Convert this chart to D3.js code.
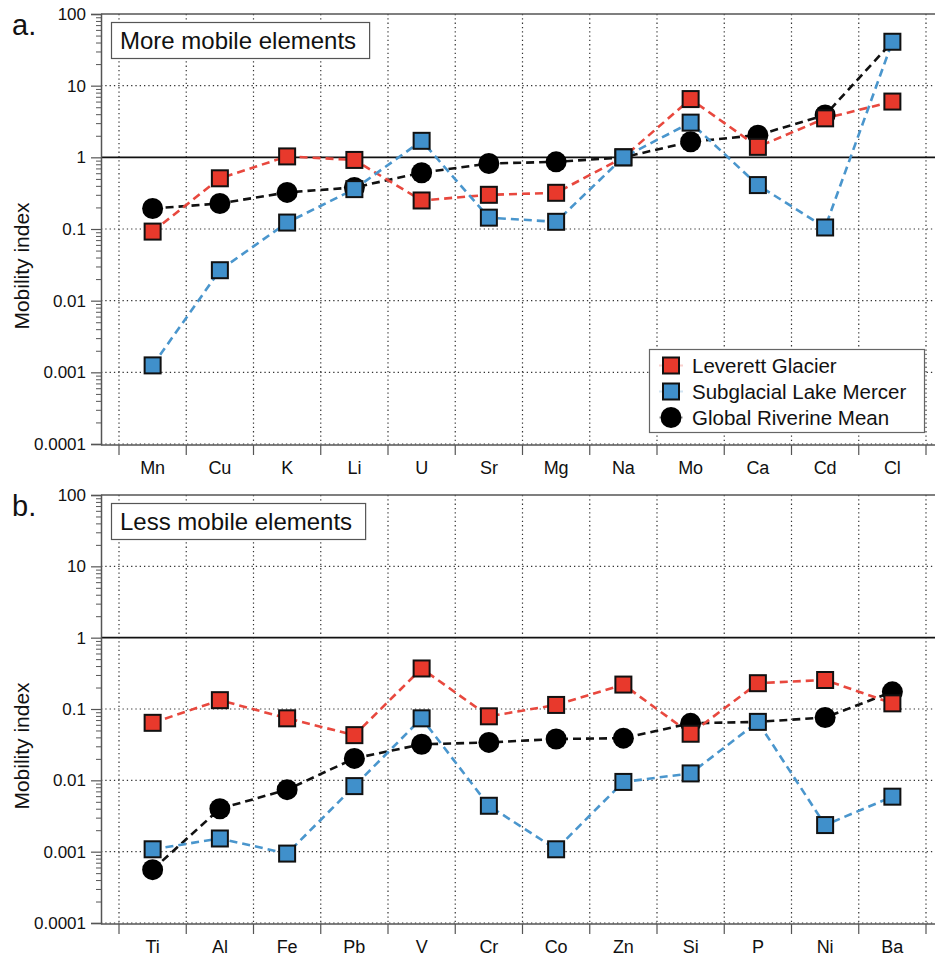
<!DOCTYPE html>
<html>
<head>
<meta charset="utf-8">
<script src="https://cdnjs.cloudflare.com/ajax/libs/d3/7.8.5/d3.min.js"></script>
<style>
  body { margin: 0; background: #fff; }
  svg { font-family: "Liberation Sans", Arial, Helvetica, sans-serif; }
</style>
</head>
<body>
<div id="chart"></div>
<script>

// Panel a data (more mobile elements)
var elementsA = ["Mn", "Cu", "K", "Li", "U", "Sr", "Mg", "Na", "Mo", "Ca", "Cd", "Cl"];
var leverettA = [0.092, 0.51, 1.03, 0.92, 0.25, 0.30, 0.32, 1.0, 6.5, 1.4, 3.5, 6.0];
var mercerA   = [0.00125, 0.0266, 0.123, 0.36, 1.7, 0.144, 0.126, 1.0, 3.05, 0.41, 0.105, 41];
var globalA   = [0.193, 0.227, 0.324, 0.38, 0.61, 0.82, 0.865, 1.0, 1.65, 2.04, 3.9, 41];

// Panel b data (less mobile elements)
var elementsB = ["Ti", "Al", "Fe", "Pb", "V", "Cr", "Co", "Zn", "Si", "P", "Ni", "Ba"];
var leverettB = [0.064, 0.133, 0.074, 0.043, 0.37, 0.079, 0.114, 0.22, 0.045, 0.23, 0.255, 0.12];
var mercerB   = [0.00108, 0.00153, 0.00094, 0.0083, 0.074, 0.0044, 0.00108, 0.0095, 0.0125, 0.066, 0.00236, 0.0059];
var globalB   = [0.00056, 0.0040, 0.0074, 0.0203, 0.032, 0.034, 0.038, 0.039, 0.063, 0.066, 0.076, 0.174];

// Axis ticks and labels
var yTicks = [0.0001, 0.001, 0.01, 0.1, 1, 10, 100];
var yTickLabels = ["0.0001", "0.001", "0.01", "0.1", "1", "10", "100"];
var seriesNames = ["Leverett Glacier", "Subglacial Lake Mercer", "Global Riverine Mean"];


var svgWidth = 935;
var svgHeight = 959;

var plotLeft = 101;
var plotRight = 935;

var red = "#e8392c";
var blue = "#4090cb";
var axisGray = "#555";

var svg = d3.select("#chart")
  .append("svg")
  .attr("width", svgWidth)
  .attr("height", svgHeight);


// minor tick values, 2..9 in every decade
var minorTicks = [];
yTicks.slice(0, -1).forEach(function(d) {
    for (var k = 2; k <= 9; k++) minorTicks.push(d * k);
});


function drawPanel(p) {

    var x = d3.scaleBand()
        .domain(p.elements)
        .range([119, 926]);

    var y = d3.scaleLog()
        .domain([0.0001, 100])
        .range([p.bottom, p.top]);

    var g = svg.append("g");

    // dotted gridlines
    var bounds = p.elements.map(d => x(d)).concat([x.range()[1]]);

    g.selectAll(".vgrid")
        .data(bounds)
        .enter()
        .append("line")
        .attr("x1", d => d).attr("x2", d => d)
        .attr("y1", p.top).attr("y2", p.bottom)
        .style("stroke", "#333")
        .style("stroke-width", 1.2)
        .style("stroke-dasharray", "1.3,3");

    g.selectAll(".hgrid")
        .data([10, 0.1, 0.01, 0.001, 0.0001])
        .enter()
        .append("line")
        .attr("x1", plotLeft).attr("x2", plotRight)
        .attr("y1", d => y(d)).attr("y2", d => y(d))
        .style("stroke", "#333")
        .style("stroke-width", 1.2)
        .style("stroke-dasharray", "1.3,3");

    // frame line at top and solid line at 1
    g.append("line")
        .attr("x1", plotLeft).attr("x2", plotRight)
        .attr("y1", y(100)).attr("y2", y(100))
        .style("stroke", axisGray).style("stroke-width", 1.5);

    g.append("line")
        .attr("x1", plotLeft).attr("x2", plotRight)
        .attr("y1", y(1)).attr("y2", y(1))
        .style("stroke", "#111").style("stroke-width", 1.6);

    // bottom axis
    g.append("line")
        .attr("x1", plotLeft).attr("x2", plotRight)
        .attr("y1", p.bottom + 1).attr("y2", p.bottom + 1)
        .style("stroke", axisGray).style("stroke-width", 1.5);

    g.selectAll(".xtick")
        .data(bounds)
        .enter()
        .append("line")
        .attr("x1", d => d).attr("x2", d => d)
        .attr("y1", p.bottom + 1).attr("y2", p.bottom + 11)
        .style("stroke", axisGray).style("stroke-width", 1.2);

    var bottomAxis = d3.axisBottom(x).tickSize(0).tickPadding(17);
    var xg = g.append("g")
        .attr("transform", `translate(0, ${p.bottom})`)
        .call(bottomAxis);
    xg.select(".domain").remove();
    xg.attr("font-size", null).attr("font-family", null);
    xg.selectAll("text")
        .style("font-size", "18px")
        .style("fill", "#111");

    // left axis, majors and minors
    var leftAxis = d3.axisLeft(y)
        .tickValues(yTicks)
        .tickFormat((d, i) => yTickLabels[i])
        .tickSize(10)
        .tickPadding(5);

    var yg = g.append("g")
        .attr("transform", `translate(${plotLeft}, 0)`)
        .call(leftAxis);
    yg.attr("font-size", null).attr("font-family", null);
    yg.select(".domain").style("stroke", axisGray).style("stroke-width", 1.5);
    yg.selectAll("line").style("stroke", axisGray).style("stroke-width", 1.2);
    yg.selectAll("text")
        .style("font-size", "17px")
        .style("fill", "#111");

    var minorAxis = d3.axisLeft(y)
        .tickValues(minorTicks)
        .tickFormat("")
        .tickSize(5);
    var mg = g.append("g")
        .attr("transform", `translate(${plotLeft}, 0)`)
        .call(minorAxis);
    mg.select(".domain").remove();
    mg.selectAll("line").style("stroke", axisGray).style("stroke-width", 1);

    // y label
    g.append("text")
        .attr("transform", `translate(29, ${(p.top + p.bottom) / 2 + 37}) rotate(-90)`)
        .style("text-anchor", "middle")
        .style("font-size", "21px")
        .style("fill", "#111")
        .text("Mobility index");

    // panel letter
    g.append("text")
        .attr("x", 12)
        .attr("y", p.top + 21)
        .style("font-size", "29px")
        .style("fill", "#111")
        .text(p.letter);

    // title box
    var titleRect = g.append("rect")
        .attr("x", 111.5)
        .attr("y", p.top + 8.5)
        .attr("height", 36)
        .style("fill", "#fff")
        .style("stroke", axisGray)
        .style("stroke-width", 1.2);
    var titleText = g.append("text")
        .attr("x", 120)
        .attr("y", p.top + 35)
        .style("font-size", "24px")
        .style("fill", "#111")
        .text(p.title);
    titleRect.attr("width", titleText.node().getComputedTextLength() + 22);

    // series: black, red, blue (blue on top)
    var series = [
        { values: p.global, color: "#111", line: "#111", shape: "circle" },
        { values: p.leverett, color: red, line: "#e8483e", shape: "square" },
        { values: p.mercer, color: blue, line: "#4a96cd", shape: "square" }
    ];

    var line = d3.line()
        .x((d, i) => x(p.elements[i]) + x.bandwidth() / 2)
        .y(d => y(d));

    series.forEach(function(s) {
        g.append("path")
            .datum(s.values)
            .attr("d", line)
            .style("fill", "none")
            .style("stroke", s.line)
            .style("stroke-width", 2.6)
            .style("stroke-dasharray", "8,5");
    });

    series.forEach(function(s) {
        var pts = g.append("g").selectAll("g")
            .data(s.values.map((v, i) => ({ v: v, i: i })))
            .enter()
            .append("g")
            .attr("transform", d => `translate(${x(p.elements[d.i]) + x.bandwidth() / 2}, ${y(d.v)})`);

        if (s.shape == "circle") {
            // circles that sit exactly on a blue marker are hidden in the original
            pts.filter(d => d.v != p.mercer[d.i])
                .append("circle")
                .attr("r", 10.5)
                .style("fill", "#000");
        } else {
            pts.append("rect")
                .attr("x", -8).attr("y", -8)
                .attr("width", 16).attr("height", 16)
                .style("fill", s.color)
                .style("stroke", "#111")
                .style("stroke-width", 2);
        }
    });

    // legend (panel a only)
    if (p.legend) {
        var lg = g.append("g");
        lg.append("rect")
            .attr("x", 649.5).attr("y", 349.5)
            .attr("width", 275).attr("height", 83)
            .style("fill", "#fff")
            .style("stroke", "#666")
            .style("stroke-width", 1.2);

        var legendItems = [
            { color: red, line: "#e8483e", shape: "square" },
            { color: blue, line: "#4a96cd", shape: "square" },
            { color: "#000", line: "#111", shape: "circle" }
        ];

        legendItems.forEach(function(item, i) {
            var cy = 365.5 + i * 26;
            lg.append("line")
                .attr("x1", 659).attr("x2", 683)
                .attr("y1", cy).attr("y2", cy)
                .style("stroke", item.line)
                .style("stroke-width", 2)
                .style("opacity", 0.25);
            if (item.shape == "circle") {
                lg.append("circle")
                    .attr("cx", 671).attr("cy", cy)
                    .attr("r", 10.5)
                    .style("fill", "#000");
            } else {
                lg.append("rect")
                    .attr("x", 663).attr("y", cy - 8)
                    .attr("width", 16).attr("height", 16)
                    .style("fill", item.color)
                    .style("stroke", "#111")
                    .style("stroke-width", 2);
            }
            lg.append("text")
                .attr("x", 692)
                .attr("y", cy)
                .attr("dy", "0.36em")
                .style("font-size", "20.5px")
                .style("fill", "#111")
                .text(seriesNames[i]);
        });
    }
}


drawPanel({
    elements: elementsA, leverett: leverettA, mercer: mercerA, global: globalA,
    top: 14, bottom: 444, letter: "a.", title: "More mobile elements", legend: true
});

drawPanel({
    elements: elementsB, leverett: leverettB, mercer: mercerB, global: globalB,
    top: 495, bottom: 923, letter: "b.", title: "Less mobile elements", legend: false
});

</script>
</body>
</html>
